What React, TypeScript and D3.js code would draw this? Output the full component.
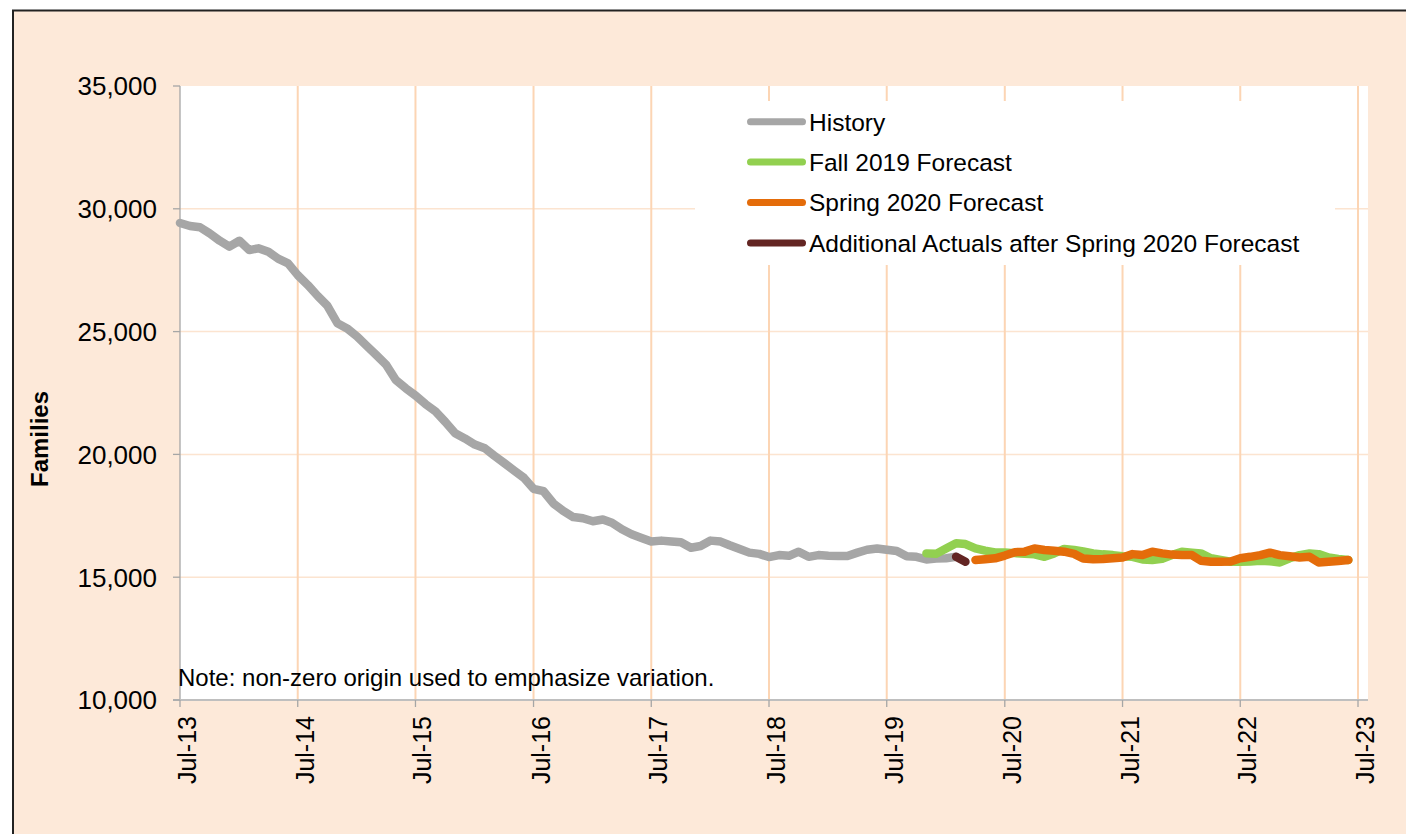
import React from "react";
import * as d3 from "d3";

// ---------- data (monthly values, families) ----------
const historyStart = "2013-07";
const historyValues = [
  29420, 29300, 29250, 29000, 28700, 28460, 28700, 28320, 28390, 28250,
  27970, 27780, 27300, 26900, 26450, 26050, 25340, 25130, 24800, 24400,
  24050, 23650, 23030, 22690, 22400, 22050, 21750, 21330, 20860, 20650,
  20400, 20250, 19950, 19650, 19350, 19050, 18600, 18500, 18000, 17700,
  17450, 17400, 17280, 17350, 17220, 16950, 16750, 16600, 16450, 16490,
  16450, 16420, 16200, 16270, 16490, 16450, 16300, 16150, 16000, 15950,
  15820, 15900, 15870, 16040, 15830, 15900, 15870, 15860, 15860, 16000,
  16120, 16170, 16120, 16070, 15850, 15830, 15720, 15760, 15770, 15830,
];

const fall2019Start = "2019-11";
const fall2019Values = [
  15970, 15950, 16170, 16380, 16350, 16170, 16080, 16010, 16010, 15980,
  15950, 15930, 15830, 15970, 16150, 16110, 16050, 15970, 15930, 15900,
  15850, 15830, 15720, 15700, 15750, 15900, 16040, 16000, 15970, 15770,
  15700, 15630, 15630, 15640, 15670, 15650, 15600, 15770, 15900, 15970,
  15940, 15800, 15740, 15700,
];

const spring2020Start = "2020-04";
const spring2020Values = [
  15700, 15730, 15770, 15880, 16020, 16040, 16170, 16110, 16080, 16040,
  15950, 15760, 15730, 15740, 15770, 15800, 15940, 15900, 16040, 15970,
  15920, 15900, 15900, 15670, 15630, 15630, 15640, 15770, 15830, 15900,
  16000, 15900, 15850, 15800, 15830, 15600, 15630, 15660, 15700,
];

const additionalStart = "2020-02";
const additionalValues = [15830, 15630];

const yTickValues = [10000, 15000, 20000, 25000, 30000, 35000];
const xTickYears = [2013, 2014, 2015, 2016, 2017, 2018, 2019, 2020, 2021, 2022, 2023];

const seriesNames = [
  "History",
  "Fall 2019 Forecast",
  "Spring 2020 Forecast",
  "Additional Actuals after Spring 2020 Forecast",
];
const seriesColors = ["#A6A6A6", "#92D050", "#E46C0A", "#632523"];

// ---------- helpers ----------
const parseMonth = d3.timeParse("%Y-%m");
type Pt = { date: Date; value: number };
function toSeries(start: string, values: number[]): Pt[] {
  const s = parseMonth(start) as Date;
  return values.map((v, i) => ({ date: d3.timeMonth.offset(s, i), value: v }));
}

const W = 1406;
const H = 834;
const plot = { left: 180, right: 1368, top: 86, bottom: 700 };
const FONT = "'Liberation Sans', Arial, Helvetica, sans-serif";

export default function App() {
  const x = d3
    .scaleTime()
    .domain([new Date(2013, 6, 1), new Date(2023, 7, 1)])
    .range([plot.left, plot.right]);
  const y = d3.scaleLinear().domain([10000, 35000]).range([plot.bottom, plot.top]);

  const line = d3
    .line<Pt>()
    .x((d) => x(d.date))
    .y((d) => y(d.value));

  const series = [
    toSeries(historyStart, historyValues),
    toSeries(fall2019Start, fall2019Values),
    toSeries(spring2020Start, spring2020Values),
    toSeries(additionalStart, additionalValues),
  ];

  const xTicks = xTickYears.map((yr) => new Date(yr, 6, 1));
  const fmt = d3.timeFormat("%b-%y");

  const legendRowsY = [121.7, 162, 202.5, 243];

  return (
    <svg
      width={W}
      height={H}
      style={{ position: "absolute", left: 0, top: 0, display: "block" }}
      fontFamily={FONT}
    >
      <rect x={0} y={0} width={W} height={H} fill="#ffffff" />
      {/* outer frame */}
      <rect x={13} y={10.5} width={W + 50} height={H + 50} fill="#FDE9D9" stroke="#222" strokeWidth={2} />
      {/* plot area */}
      <rect
        x={plot.left}
        y={plot.top}
        width={plot.right - plot.left}
        height={plot.bottom - plot.top}
        fill="#ffffff"
      />
      {/* horizontal gridlines */}
      {yTickValues
        .filter((v) => v > 10000 && v < 35000)
        .map((v) => (
          <line
            key={"hg" + v}
            x1={plot.left}
            x2={plot.right}
            y1={y(v)}
            y2={y(v)}
            stroke="#FCE4D0"
            strokeWidth={1.5}
          />
        ))}
      {/* vertical gridlines */}
      {xTicks.slice(1).map((d, i) => (
        <line
          key={"vg" + i}
          x1={x(d)}
          x2={x(d)}
          y1={plot.top}
          y2={plot.bottom}
          stroke="#FCD5B4"
          strokeWidth={2}
        />
      ))}
      {/* legend background */}
      <rect x={695} y={101} width={640} height={164} fill="#ffffff" />

      {/* axes */}
      <line x1={plot.left} x2={plot.left} y1={plot.top} y2={plot.bottom} stroke="#A6A6A6" strokeWidth={1.3} />
      <line x1={plot.left - 7} x2={plot.right} y1={plot.bottom} y2={plot.bottom} stroke="#BFBFBF" strokeWidth={2} />
      {yTickValues.map((v) => (
        <g key={"yt" + v}>
          <line x1={plot.left - 7} x2={plot.left} y1={y(v)} y2={y(v)} stroke="#A6A6A6" strokeWidth={1.3} />
          <text x={157} y={y(v)} dy="0.36em" textAnchor="end" fontSize={26} fill="#000">
            {d3.format(",")(v)}
          </text>
        </g>
      ))}
      {xTicks.map((d, i) => (
        <g key={"xt" + i}>
          <line x1={x(d)} x2={x(d)} y1={plot.bottom} y2={plot.bottom + 7} stroke="#A6A6A6" strokeWidth={1.3} />
          <text
            transform={`translate(${x(d) + 16},716) rotate(-90)`}
            textAnchor="end"
            fontSize={25}
            fill="#000"
          >
            {fmt(d)}
          </text>
        </g>
      ))}
      <text
        transform="translate(48,439) rotate(-90)"
        textAnchor="middle"
        fontSize={24}
        fontWeight="bold"
        fill="#000"
      >
        Families
      </text>

      {/* series */}
      {series.map((s, i) => (
        <path
          key={"s" + i}
          d={line(s) || ""}
          fill="none"
          stroke={seriesColors[i]}
          strokeWidth={8.5}
          strokeLinejoin="round"
          strokeLinecap="round"
        />
      ))}

      {/* legend */}
      {seriesNames.map((name, i) => (
        <g key={"lg" + i}>
          <line
            x1={750.5}
            x2={802.5}
            y1={legendRowsY[i]}
            y2={legendRowsY[i]}
            stroke={seriesColors[i]}
            strokeWidth={7}
            strokeLinecap="round"
          />
          <text x={809} y={legendRowsY[i]} dy="0.36em" fontSize={24.5} fill="#000">
            {name}
          </text>
        </g>
      ))}

      <text x={178} y={686} fontSize={24} fill="#000">
        Note: non-zero origin used to emphasize variation.
      </text>
    </svg>
  );
}
